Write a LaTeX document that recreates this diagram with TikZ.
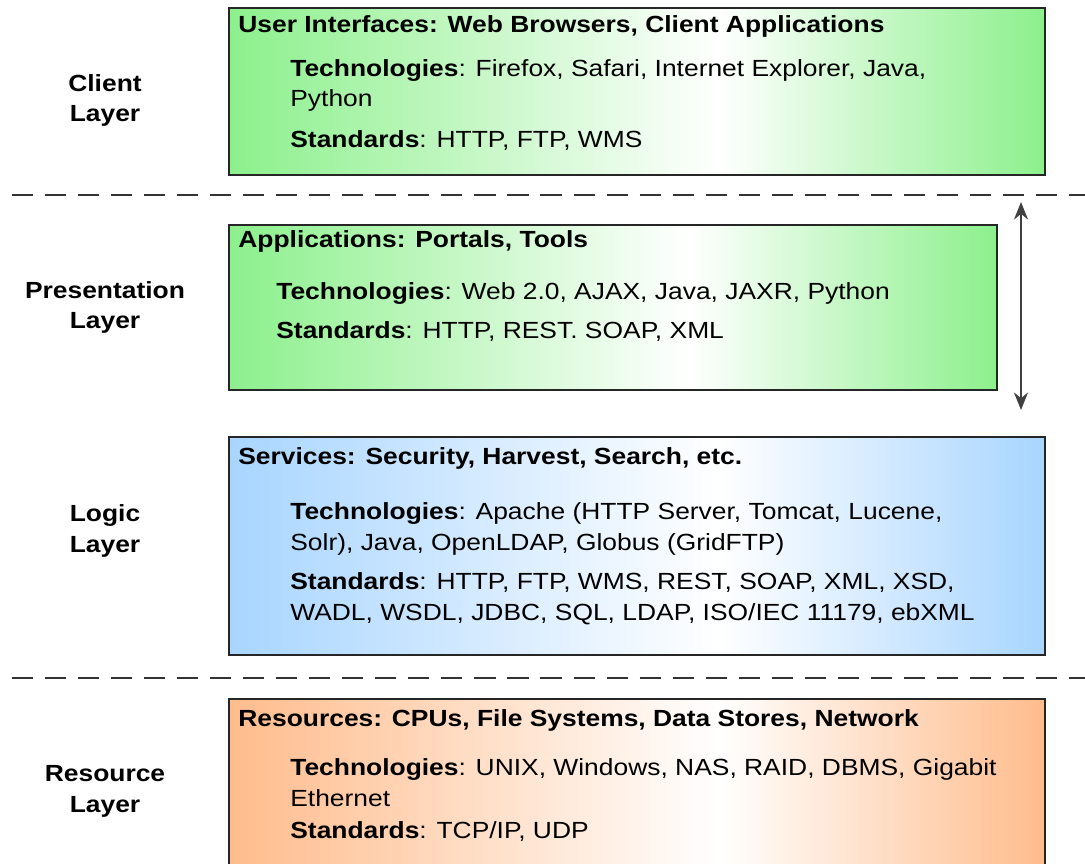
\documentclass[tikz,border=0pt]{standalone}
\usepackage{fontspec}
\setmainfont{Liberation Sans}[FakeStretch=1.13]
\usetikzlibrary{arrows.meta}

\definecolor{clientgreen}{RGB}{140,240,140}
\definecolor{logicblue}{RGB}{168,213,255}
\definecolor{resourceorange}{RGB}{255,188,140}
\pgfdeclarehorizontalshading{greenfade}{100bp}{color(0bp)=(clientgreen); color(25bp)=(clientgreen); color(55bp)=(white); color(75bp)=(clientgreen); color(100bp)=(clientgreen)}
\pgfdeclarehorizontalshading{bluefade}{100bp}{color(0bp)=(logicblue); color(25bp)=(logicblue); color(55bp)=(white); color(75bp)=(logicblue); color(100bp)=(logicblue)}
\pgfdeclarehorizontalshading{orangefade}{100bp}{color(0bp)=(resourceorange); color(25bp)=(resourceorange); color(55bp)=(white); color(75bp)=(resourceorange); color(100bp)=(resourceorange)}

\tikzset{
  layerbox/.style={draw=black!85, line width=1.1pt, shade},
  boxtitle/.style={anchor=base west, inner sep=0pt, font=\fontsize{13.3}{17.6}\selectfont\bfseries},
  boxtext/.style={anchor=base west, align=left, inner sep=0pt, font=\fontsize{13.3}{17.6}\selectfont},
  layerlabel/.style={anchor=base, align=center, inner sep=0pt, font=\fontsize{13.3}{17.6}\selectfont\bfseries},
  divider/.style={line width=1.1pt, black!80, dash pattern=on 12pt off 6.8pt}
}

\begin{document}
\begin{tikzpicture}[x=0.02cm,y=-0.02cm]
\useasboundingbox (0,0) rectangle (1085,864);

\draw[layerbox, shading=greenfade] (229,8) rectangle (1045,175);
\draw[layerbox, shading=greenfade] (229,225) rectangle (997,390);
\draw[layerbox, shading=bluefade] (229,437) rectangle (1045,655);
\draw[layerbox, shading=orangefade] (229,699) rectangle (1045,900);

\foreach \y in {195,678}
  \draw[divider] (12,\y) -- (1085,\y);

\coordinate (arrowtop) at (1021,202);
\coordinate (arrowbot) at (1021,410);
\draw[{Stealth[length=10pt,width=8pt]}-{Stealth[length=10pt,width=8pt]}, line width=1pt, black!75] (arrowtop) -- (arrowbot);

\node[layerlabel] (clientlbl) at (105,122) {Client\\Layer};
\node[layerlabel] (preslbl) at (105,329) {Presentation\\Layer};
\node[layerlabel] (logiclbl) at (105,552) {Logic\\Layer};
\node[layerlabel] (reslbl) at (105,812) {Resource\\Layer};

\node[boxtitle] (clienttitle) at (238,33) {User Interfaces: Web Browsers, Client Applications};
\node[boxtext] (clienttech) at (290,107) {\textbf{Technologies}: Firefox, Safari, Internet Explorer, Java,\\Python};
\node[boxtext] (clientstd) at (290,148) {\textbf{Standards}: HTTP, FTP, WMS};

\node[boxtitle] (prestitle) at (238,248) {Applications: Portals, Tools};
\node[boxtext] (prestech) at (276,300) {\textbf{Technologies}: Web 2.0, AJAX, Java, JAXR, Python};
\node[boxtext] (presstd) at (276,339) {\textbf{Standards}: HTTP, REST. SOAP, XML};

\node[boxtitle] (logictitle) at (238,465) {Services: Security, Harvest, Search, etc.};
\node[boxtext] (logictech) at (290,550) {\textbf{Technologies}: Apache (HTTP Server, Tomcat, Lucene,\\Solr), Java, OpenLDAP, Globus (GridFTP)};
\node[boxtext] (logicstd) at (290,620) {\textbf{Standards}: HTTP, FTP, WMS, REST, SOAP, XML, XSD,\\WADL, WSDL, JDBC, SQL, LDAP, ISO/IEC 11179, ebXML};

\node[boxtitle] (restitle) at (238,726) {Resources: CPUs, File Systems, Data Stores, Network};
\node[boxtext] (restech) at (290,806) {\textbf{Technologies}: UNIX, Windows, NAS, RAID, DBMS, Gigabit\\Ethernet};
\node[boxtext] (resstd) at (290,838) {\textbf{Standards}: TCP/IP, UDP};
\end{tikzpicture}
\end{document}
